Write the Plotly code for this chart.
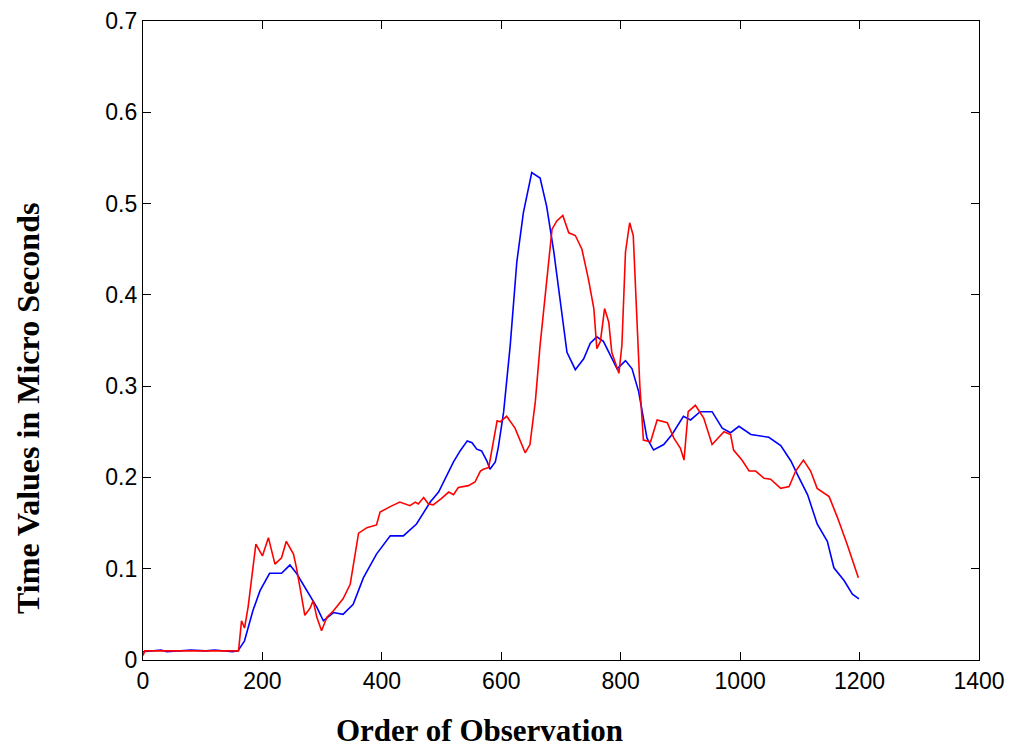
import plotly.graph_objects as go

# Observation index and measured timing values for the two series
obs_blue = [0, 30, 40, 80, 105, 120, 150, 159, 170, 184, 196, 212, 232, 246, 257, 274,
            291, 302, 319, 335, 352, 369, 391, 414, 436, 458, 464, 481, 495, 509, 520,
            531, 543, 551, 559, 567, 576, 581, 590, 595, 604, 615, 626, 637, 651, 665,
            676, 688, 699, 710, 724, 738, 749, 760, 771, 783, 794, 808, 819, 830, 844,
            855, 872, 886, 905, 917, 933, 953, 970, 984, 998, 1018, 1048, 1068, 1085,
            1096, 1113, 1129, 1146, 1157, 1174, 1188, 1199]
time_blue = [0.009, 0.011, 0.009, 0.011, 0.010, 0.011, 0.009, 0.010, 0.021, 0.054, 0.076,
             0.095, 0.095, 0.104, 0.095, 0.076, 0.058, 0.043, 0.052, 0.050, 0.061, 0.090,
             0.116, 0.136, 0.136, 0.149, 0.155, 0.173, 0.184, 0.202, 0.217, 0.229, 0.240,
             0.238, 0.231, 0.229, 0.218, 0.209, 0.217, 0.233, 0.272, 0.345, 0.436, 0.490,
             0.534, 0.528, 0.497, 0.447, 0.392, 0.337, 0.318, 0.330, 0.347, 0.354, 0.349,
             0.334, 0.319, 0.328, 0.319, 0.294, 0.243, 0.230, 0.236, 0.247, 0.267, 0.263,
             0.272, 0.272, 0.254, 0.249, 0.256, 0.247, 0.244, 0.235, 0.218, 0.203, 0.181,
             0.149, 0.130, 0.101, 0.087, 0.072, 0.067]

obs_red = [0, 3, 160, 165, 170, 176, 189, 200, 210, 221, 232, 240, 252, 257, 263, 271,
           280, 285, 291, 299, 308, 319, 335, 347, 361, 375, 391, 397, 414, 430, 447, 456,
           461, 470, 478, 486, 500, 512, 520, 528, 545, 556, 565, 570, 579, 587, 593, 598,
           609, 623, 632, 640, 648, 657, 665, 676, 685, 693, 703, 713, 724, 735, 746, 755,
           760, 766, 773, 780, 785, 797, 802, 808, 815, 821, 826, 832, 838, 850, 861, 878,
           889, 900, 906, 913, 925, 939, 953, 973, 984, 989, 1003, 1015, 1026, 1040, 1051,
           1068, 1082, 1093, 1106, 1118, 1129, 1149, 1163, 1179, 1198]
time_red = [0.005, 0.010, 0.010, 0.043, 0.035, 0.058, 0.127, 0.114, 0.134, 0.105, 0.112,
            0.130, 0.116, 0.101, 0.079, 0.049, 0.057, 0.065, 0.047, 0.032, 0.047, 0.054,
            0.067, 0.083, 0.139, 0.145, 0.148, 0.162, 0.168, 0.173, 0.169, 0.173, 0.171,
            0.178, 0.171, 0.170, 0.177, 0.184, 0.181, 0.189, 0.191, 0.195, 0.207, 0.209,
            0.211, 0.240, 0.262, 0.261, 0.267, 0.254, 0.239, 0.227, 0.236, 0.283, 0.345,
            0.417, 0.472, 0.481, 0.487, 0.468, 0.465, 0.450, 0.417, 0.385, 0.341, 0.349,
            0.385, 0.370, 0.337, 0.314, 0.345, 0.447, 0.479, 0.465, 0.392, 0.301, 0.241,
            0.239, 0.263, 0.260, 0.243, 0.232, 0.219, 0.272, 0.279, 0.265, 0.236, 0.250,
            0.247, 0.230, 0.219, 0.207, 0.207, 0.199, 0.198, 0.188, 0.190, 0.207, 0.219,
            0.207, 0.188, 0.179, 0.156, 0.127, 0.090]

x_ticks = [0, 200, 400, 600, 800, 1000, 1200, 1400]
y_ticks = [0, 0.1, 0.2, 0.3, 0.4, 0.5, 0.6, 0.7]

fig = go.Figure()
fig.add_trace(go.Scatter(x=obs_blue, y=time_blue, mode="lines",
                         line=dict(color="#0000ff", width=1.6), showlegend=False))
fig.add_trace(go.Scatter(x=obs_red, y=time_red, mode="lines",
                         line=dict(color="#ff0000", width=1.6), showlegend=False))

axis_common = dict(showline=True, linecolor="black", linewidth=1.3, mirror="ticks",
                   ticks="inside", ticklen=8, tickwidth=1.3, tickcolor="black",
                   showgrid=False, zeroline=False, automargin=False,
                   tickfont=dict(family="Liberation Sans, Arial", size=23, color="black"))

fig.update_xaxes(range=[0, 1400], tickvals=x_ticks,
                 ticktext=[str(v) for v in x_ticks], **axis_common)
fig.update_yaxes(range=[0, 0.7], tickvals=y_ticks,
                 ticktext=["0" if v == 0 else f"{v:.1f}" for v in y_ticks], **axis_common)

fig.add_annotation(text="<b>Order of Observation</b>", xref="paper", yref="paper",
                   x=0.402, y=0, xanchor="center", yanchor="top", yshift=-51,
                   showarrow=False,
                   font=dict(family="Liberation Serif, Times New Roman", size=31, color="black"))
fig.add_annotation(text="<b>Time Values in Micro Seconds</b>", xref="paper", yref="paper",
                   x=-0.1375, y=0.393, xanchor="center", yanchor="middle", textangle=-90,
                   showarrow=False,
                   font=dict(family="Liberation Serif, Times New Roman", size=32, color="black"))

fig.update_layout(width=1012, height=748, margin=dict(l=143, r=33, t=21, b=88),
                  paper_bgcolor="white", plot_bgcolor="white")

fig.write_html("out.html")
